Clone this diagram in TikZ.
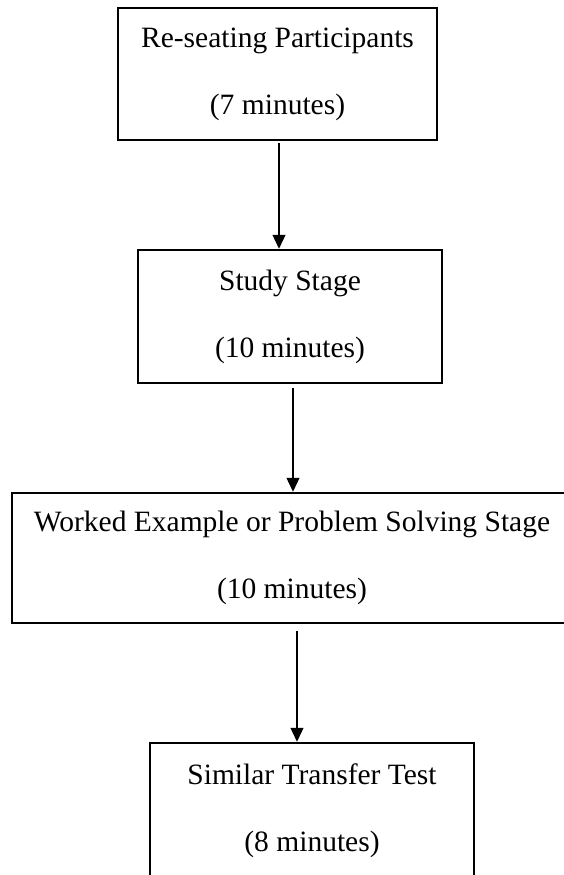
\documentclass[tikz,border=0pt]{standalone}
\usepackage{fontspec}
\setmainfont{Liberation Serif}
\usetikzlibrary{arrows.meta}
\tikzset{
  stage/.style={draw, line width=2.5pt, minimum height=132pt, inner sep=0pt, align=center, font=\fontsize{29.5}{67}\selectfont},
  flow/.style={line width=1.3pt, -{Triangle[width=13pt,length=14pt]}}
}
\begin{document}
\begin{tikzpicture}[x=1pt,y=-1pt]
\useasboundingbox (0,0) rectangle (564,875);
\clip (0,0) rectangle (564,875);
\node[stage, minimum width=319pt] (reseat) at (277.5,74) {Re-seating Participants\\(7 minutes)};
\node[stage, minimum width=304pt, minimum height=133pt] (study) at (290,316.5) {Study Stage\\(10 minutes)};
\node[stage, minimum width=560pt, minimum height=130pt] (worked) at (292,558) {Worked Example or Problem Solving Stage\\(10 minutes)};
\node[stage, minimum width=324pt, minimum height=136pt] (test) at (312,811) {Similar Transfer Test\\(8 minutes)};
\draw[flow] ([xshift=1.5pt,yshift=-2pt]reseat.south) -- ([xshift=-11pt]study.north);
\draw[flow] ([xshift=3pt,yshift=-4pt]study.south) -- ([xshift=1pt]worked.north);
\draw[flow] ([xshift=5pt,yshift=-7pt]worked.south) -- ([xshift=-15pt]test.north);
\end{tikzpicture}
\end{document}
